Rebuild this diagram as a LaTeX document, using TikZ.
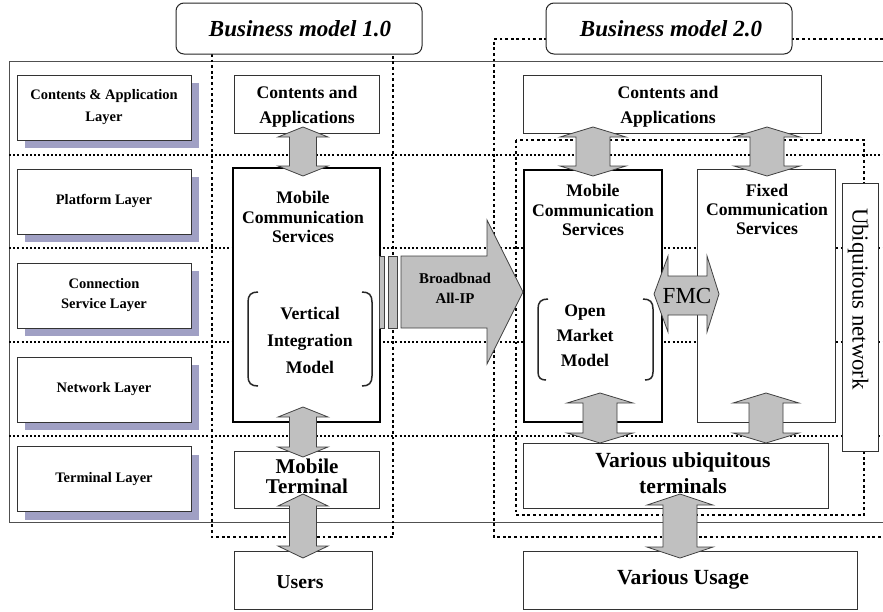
\documentclass[tikz,border=0pt]{standalone}
\usepackage{fontspec}
\setmainfont{Liberation Serif}
\usetikzlibrary{shadows}
\definecolor{shadowcol}{RGB}{160,160,196}
\definecolor{arrowgray}{RGB}{192,192,192}
\definecolor{framegray}{RGB}{80,80,80}
\newcommand\vdarr[6]{%
  \filldraw[blockarrow] (#1,#2) -- (#1+#5,#2+#6) -- (#1+#4,#2+#6) -- (#1+#4,#3-#6) -- (#1+#5,#3-#6) -- (#1,#3) -- (#1-#5,#3-#6) -- (#1-#4,#3-#6) -- (#1-#4,#2+#6) -- (#1-#5,#2+#6) -- cycle;}
\tikzset{
  layerline/.style={line width=1.6pt, dash pattern=on 2pt off 2.2pt},
  bmline/.style={line width=2.8pt, dash pattern=on 2.8pt off 2.8pt},
  layerbox/.style={draw=black!80, line width=1pt, fill=white, minimum width=174pt, minimum height=65pt, inner sep=0pt, align=center,
    font=\fontsize{14.5}{22}\selectfont\bfseries,
    drop shadow={shadow xshift=8pt, shadow yshift=-8pt, fill=shadowcol, opacity=1}},
  box/.style={draw=black!80, line width=1pt, fill=white, inner sep=0pt},
  thickbox/.style={draw=black, line width=2.8pt, fill=white, inner sep=0pt},
  titlebox/.style={draw=black!85, line width=1pt, fill=white, rounded corners=8pt, inner sep=0pt, minimum width=246pt, minimum height=51pt},
  blockarrow/.style={fill=arrowgray, draw=black!75, line width=0.8pt, line join=miter},
  bracket/.style={line width=1.5pt, black!85},
  txt/.style={inner sep=0pt, align=center},
}
\begin{document}
\begin{tikzpicture}[x=1pt,y=-1pt]
\useasboundingbox (0,0) rectangle (883,611);
% outer frame
\draw[framegray, line width=1pt] (9,61) rectangle (900,522);
% layer separators
\foreach \yy in {155,248,342,436} \draw[layerline] (9,\yy) -- (883,\yy);
% business model regions
\draw[bmline] (212,54) -- (212,537) -- (393,537) -- (393,54);
\draw[bmline] (900,39) -- (494,39) -- (494,537) -- (900,537);
\draw[bmline] (516,140) rectangle (864,515);
% layer boxes
\node[layerbox] (l1) at (104,107.5) {Contents \& Application\\Layer};
\node[layerbox] (l2) at (104,201.5) {\raisebox{5pt}{Platform Layer}};
\node[layerbox, font=\fontsize{14.5}{20}\selectfont\bfseries] (l3) at (104,295.5) {Connection\\Service Layer};
\node[layerbox] (l4) at (104,389.5) {Network Layer};
\node[layerbox] (l5) at (104,479) {Terminal Layer};
% title boxes
\node[titlebox] (bm1) at (299,28.5) {};
\node[titlebox] (bm2) at (669,28.5) {};
% content boxes
\node[box, minimum width=145pt, minimum height=58pt] (ca1) at (306.5,104) {};
\node[thickbox, minimum width=147pt, minimum height=254pt] (mcs1) at (306.5,295) {};
\node[box, minimum width=145pt, minimum height=57pt] (mt) at (306.5,479.5) {};
\node[box, minimum width=138pt, minimum height=58pt] (users) at (303,580) {};
\node[box, minimum width=298pt, minimum height=58pt] (ca2) at (672,104) {};
\node[thickbox, minimum width=138pt, minimum height=252pt] (mcs2) at (593,296) {};
\node[box, minimum width=138pt, minimum height=253pt] (fcs) at (766,295.5) {};
\node[box, minimum width=36pt, minimum height=268pt] (ubi) at (860,317) {};
\node[box, minimum width=305pt, minimum height=65pt] (vut) at (675.5,475.5) {};
\node[box, minimum width=334pt, minimum height=58pt] (vu) at (690,580) {};
% brackets
\draw[bracket] (258,292) .. controls (251,292) and (248,295) .. (248,302) -- (248,376) .. controls (248,383) and (251,386) .. (258,386);
\draw[bracket] (362,292) .. controls (369,292) and (372,295) .. (372,302) -- (372,376) .. controls (372,383) and (369,386) .. (362,386);
\draw[bracket] (548,299) .. controls (541,299) and (538,302) .. (538,309) -- (538,372) .. controls (538,378) and (541,380) .. (546,380);
\draw[bracket] (643,299) .. controls (650,299) and (653,302) .. (653,309) -- (653,372) .. controls (653,378) and (650,380) .. (645,380);
% broadband arrow
\filldraw[blockarrow] (379,256) rectangle (384,328);
\filldraw[blockarrow] (388,256) rectangle (397,328);
\filldraw[blockarrow] (401,256) -- (487,256) -- (487,220) -- (523,292) -- (487,364) -- (487,328) -- (401,328) -- cycle;
% FMC arrow
\filldraw[blockarrow] (654,294) -- (668,256) -- (668,276) -- (707,276) -- (707,256) -- (719,294) -- (707,332) -- (707,315) -- (668,315) -- (668,332) -- cycle;
% vertical double arrows
\vdarr{303}{127}{176}{13.5}{25}{10}
\vdarr{303}{407}{457}{13.5}{25}{10}
\vdarr{303}{494}{558}{13.5}{25}{12}
\vdarr{593}{127}{176}{17}{33}{10}
\vdarr{767}{127}{176}{17}{33}{10}
\vdarr{600}{393}{443}{17}{33}{10}
\vdarr{766}{393}{443}{17}{33}{10}
\vdarr{680}{494}{558}{17}{33}{11}
% texts
\node[txt, font=\fontsize{23}{26}\selectfont\bfseries\itshape] (bm1t) at (300,29) {Business model 1.0};
\node[txt, font=\fontsize{23}{26}\selectfont\bfseries\itshape] (bm2t) at (671,29) {Business model 2.0};
\node[txt, font=\fontsize{17.7}{25}\selectfont\bfseries] (ca1t) at (307,107) {Contents and\\Applications};
\node[txt, font=\fontsize{17.7}{25}\selectfont\bfseries] (ca2t) at (668,107) {Contents and\\Applications};
\node[txt, font=\fontsize{17.7}{19.7}\selectfont\bfseries] (mcs1t) at (303,217) {Mobile\\Communication\\Services};
\node[txt, font=\fontsize{17.7}{27}\selectfont\bfseries] (vimt) at (310,340) {Vertical\\Integration\\Model};
\node[txt, font=\fontsize{21}{20}\selectfont\bfseries] (mtt) at (307,476) {Mobile\\Terminal};
\node[txt, font=\fontsize{19.7}{22}\selectfont\bfseries] (userst) at (300,582) {Users};
\node[txt, font=\fontsize{17.7}{19.5}\selectfont\bfseries] (mcs2t) at (593,210) {Mobile\\Communication\\Services};
\node[txt, font=\fontsize{17.7}{25}\selectfont\bfseries] (omm) at (585,336) {Open\\Market\\Model};
\node[txt, font=\fontsize{17.7}{19}\selectfont\bfseries] (fcst) at (767,209) {Fixed\\Communication\\Services};
\node[txt, font=\fontsize{21.6}{26}\selectfont\bfseries] (vutt) at (683,473) {Various ubiquitous\\terminals};
\node[txt, font=\fontsize{21.6}{24}\selectfont\bfseries] (vut2) at (683,579) {Various Usage};
\node[txt, font=\fontsize{14.9}{20}\selectfont\bfseries] (bbt) at (455,288) {Broadbnad\\All-IP};
\node[txt, font=\fontsize{23}{26}\selectfont] (fmct) at (687,296) {FMC};
\node[txt, font=\fontsize{22.8}{26}\selectfont, rotate=-90] (ubit) at (858,299) {Ubiquitous network};
\end{tikzpicture}
\end{document}
